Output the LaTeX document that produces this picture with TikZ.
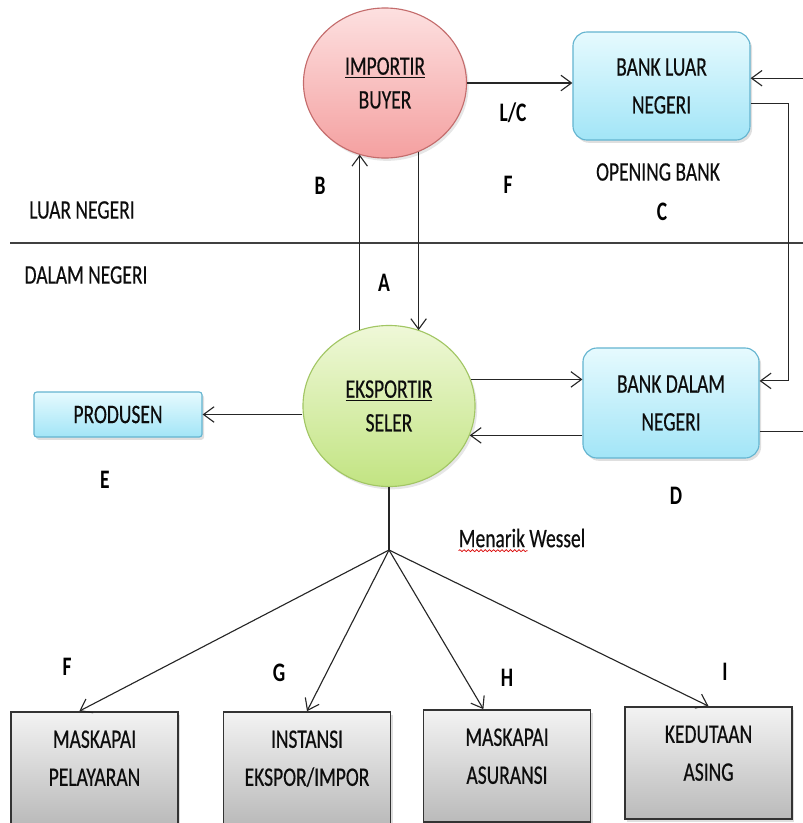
\documentclass[tikz,border=0pt]{standalone}
\usepackage{fontspec}
\setmainfont{Carlito}[FakeStretch=0.73, UprightFeatures={FakeBold=0.4}]
\usepackage{tikz}
\usetikzlibrary{shadows, shapes.geometric, positioning, arrows.meta, calc, decorations.pathmorphing}

\definecolor{pinktop}{RGB}{253,224,224}
\definecolor{pinkbot}{RGB}{244,160,160}
\definecolor{pinkline}{RGB}{196,108,108}
\definecolor{greentop}{RGB}{239,248,216}
\definecolor{greenbot}{RGB}{194,228,130}
\definecolor{greenline}{RGB}{162,198,100}
\definecolor{bluetop}{RGB}{230,250,254}
\definecolor{bluebot}{RGB}{162,229,247}
\definecolor{blueline}{RGB}{100,180,208}
\definecolor{graytop}{RGB}{243,243,243}
\definecolor{graybot}{RGB}{186,186,186}

\newcommand{\liftup}{\\[-13pt]\mbox{}}

\begin{document}
\begin{tikzpicture}[
        x=0.025cm, y=-0.025cm,
        every node/.style={font=\fontsize{19}{24}\selectfont, text=black!95, inner sep=0pt},
        party/.style={ellipse, draw, line width=0.8pt, align=center, drop shadow={opacity=0.2, shadow xshift=1.5pt, shadow yshift=-2pt}},
        bank/.style={rectangle, draw=blueline, line width=0.8pt, rounded corners=10pt, top color=bluetop, bottom color=bluebot, align=center, font=\fontsize{19}{27}\selectfont, drop shadow={opacity=0.25, shadow xshift=1.5pt, shadow yshift=-2pt}},
        inst/.style={rectangle, draw=black!80, line width=1.2pt, top color=graytop, bottom color=graybot, minimum width=4.175cm, minimum height=2.8cm, align=center, font=\fontsize{19}{27}\selectfont, drop shadow={opacity=0.25, shadow xshift=1.5pt, shadow yshift=-2pt}},
        tag/.style={font=\fontsize{19}{24}\selectfont\bfseries, text=black},
        arrow/.style={-{Straight Barb[length=7.5pt, width=11pt]}, line width=0.8pt, black!85}
    ]
    \useasboundingbox (0,0) rectangle (803,823);
%
    % Luar negeri
    \node[party, draw=pinkline, top color=pinktop, bottom color=pinkbot, minimum width=4.075cm, minimum height=3.75cm] (imp) at (385, 83) {\underline{IMPORTIR}\\BUYER};
    \node[bank, minimum width=4.425cm, minimum height=2.7cm] (bl) at (661.5, 86) {BANK LUAR\\NEGERI};
    \node[tag] (lblc) at (513, 113) {L/C};
    \node[tag] (lbb) at (320, 186) {B};
    \node[tag] (lbf) at (508, 185) {F};
    \node (opening) at (658, 172) {OPENING BANK};
    \node[tag] (lbc) at (662, 212) {C};
    \node (luar) at (82, 210) {LUAR NEGERI};
%
    % Separator
    \draw[line width=1pt, black!75] (10, 243) -- (803, 243);
%
    % Dalam negeri
    \node (dalam) at (86, 275) {DALAM NEGERI};
    \node[tag] (lba) at (384, 283) {A};
    \node[party, draw=greenline, top color=greentop, bottom color=greenbot, minimum width=4.3cm, minimum height=4.025cm] (eks) at (389, 406) {\underline{EKSPORTIR}\\SELER};
    \node[bank, minimum width=4.4cm, minimum height=2.75cm] (bd) at (671, 403) {BANK DALAM\\NEGERI};
    \node[bank, rounded corners=2pt, minimum width=4.2cm, minimum height=1.125cm] (prod) at (118, 414.5) {PRODUSEN};
    \node[tag] (lbe) at (105, 480) {E};
    \node[tag] (lbd) at (676, 496) {D};
    \node (wessel) at (522, 538) {Menarik Wessel};
    \draw[red!85!black, line width=0.5pt, decorate, decoration={snake, amplitude=0.7pt, segment length=3pt}] ($(wessel.south west)+(0,3)$) -- ++(69,0);
%
    % Pihak terkait
    \coordinate (j) at (389, 550);
    \node[inst] (b1) at (94.5, 768) {MASKAPAI\\PELAYARAN\liftup};
    \node[inst] (b2) at (307, 768) {INSTANSI\\EKSPOR/IMPOR\liftup};
    \node[inst] (b3) at (507, 766) {MASKAPAI\\ASURANSI\liftup};
    \node[inst] (b4) at (708.5, 763) {KEDUTAAN\\ASING\liftup};
    \node[tag] (lbf2) at (67, 667) {F};
    \node[tag] (lbg) at (279, 673) {G};
    \node[tag] (lbh) at (507, 678) {H};
    \node[tag] (lbi) at (725, 672) {I};
%
    \coordinate (lcin) at ($(bl.5)+(60,0)$);
    \draw[arrow] (imp.east) -- (imp.east -| bl.west);
    \draw[arrow] (lcin) -- (bl.5);
    \draw[arrow] (bl.-11.5) -- ++(38,0) |- (bd.14);
    \draw[line width=0.8pt, black!85] (bd.-18) -- ++(50,0);
    \draw[arrow] (eks.111.7) -- (eks.111.7 |- imp.250);
    \draw[arrow] (imp.296) -- (imp.296 |- eks.68.8);
    \draw[arrow] (eks.18) -- (eks.18 -| bd.west);
    \draw[arrow] (eks.-20 -| bd.west) -- (eks.-20);
    \draw[arrow] (eks.west |- prod.east) -- (prod.east);
    \draw[line width=0.8pt, black!85] (eks.south) -- (j);
    \draw[arrow] (j) -- ($(b1.north west)!0.41!(b1.north east)$);
    \draw[arrow] (j) -- (b2.north);
    \draw[arrow] (j) -- ($(b3.north west)!0.36!(b3.north east)$);
    \draw[arrow] (j) -- (b4.north);
%
\end{tikzpicture}
\end{document}
